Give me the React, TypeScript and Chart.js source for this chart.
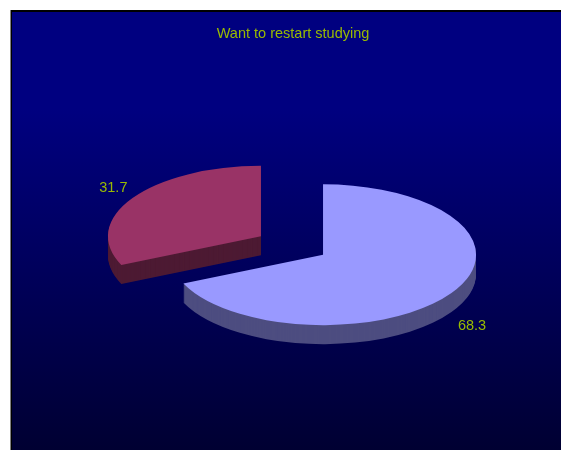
import React, { useEffect, useRef } from "react";
import { Chart, registerables } from "chart.js";

Chart.register(...registerables);

const title = "Want to restart studying";
const categories = ["Yes", "No"];
const values = [68.3, 31.7];
const topColors = ["#9999ff", "#993366"];
const sideColors = ["#4d4d80", "#4d1a33"];
const textColor = "#99bb00";
const fontFamily = "'Liberation Sans', Arial, sans-serif";

const DEPTH = 19;
const SQUASH = 0.46;
const EXPLODE = 37;
const CENTER_X = 292;
const CENTER_Y = 245.5;

function drawArc(ctx: any, arc: any, fill?: string) {
  const mid = (arc.startAngle + arc.endAngle) / 2;
  ctx.save();
  ctx.translate(Math.cos(mid) * EXPLODE, Math.sin(mid) * EXPLODE);
  if (fill) {
    const opts = Object.create(arc.options);
    Object.defineProperty(opts, "backgroundColor", { value: fill });
    const ghost = Object.create(arc);
    Object.defineProperty(ghost, "options", { value: opts });
    ghost.draw(ctx);
  } else {
    arc.draw(ctx);
  }
  ctx.restore();
}

const pie3d = {
  id: "pie3d",
  beforeDraw(chart: any) {
    const { ctx, width, height } = chart;
    const g = ctx.createLinearGradient(0, 12, 0, height);
    g.addColorStop(0, "#000080");
    g.addColorStop(0.22, "#000080");
    g.addColorStop(1, "#000032");
    ctx.save();
    ctx.fillStyle = "#808080";
    ctx.fillRect(10, 10, 1, height - 10);
    ctx.fillStyle = "#000000";
    ctx.fillRect(11, 10, width - 11, height - 10);
    ctx.fillStyle = g;
    ctx.fillRect(12, 12, width - 12, height - 12);
    ctx.restore();
  },
  beforeDatasetsDraw(chart: any) {
    const { ctx } = chart;
    const arcs = chart.getDatasetMeta(0).data;
    const cx = arcs[0].x;
    const cy = arcs[0].y;
    ctx.save();
    ctx.translate(CENTER_X, CENTER_Y);
    ctx.scale(1, SQUASH);
    ctx.translate(-cx, -cy);
    for (let d = DEPTH; d >= 1; d--) {
      ctx.save();
      ctx.translate(0, d / SQUASH);
      arcs.forEach((arc: any, i: number) => drawArc(ctx, arc, sideColors[i]));
      ctx.restore();
    }
    arcs.forEach((arc: any) => drawArc(ctx, arc));
    ctx.restore();

    ctx.save();
    ctx.fillStyle = textColor;
    ctx.font = `14.5px ${fontFamily}`;
    ctx.textAlign = "center";
    ctx.textBaseline = "middle";
    arcs.forEach((arc: any, i: number) => {
      const mid = (arc.startAngle + arc.endAngle) / 2;
      const r = arc.outerRadius * 1.155;
      const sin = Math.sin(mid);
      const x = CENTER_X + 0.7 + Math.cos(mid) * (EXPLODE + r);
      const y =
        CENTER_Y +
        1 +
        sin * EXPLODE * SQUASH +
        sin * r * 0.51 +
        (sin > 0 ? DEPTH + 2 : 0);
      ctx.fillText(values[i].toFixed(1), x, y);
    });
    ctx.restore();
    return false;
  },
};

export default function App() {
  const ref = useRef<HTMLCanvasElement>(null);

  useEffect(() => {
    document.body.style.margin = "0";
    document.body.style.background = "#ffffff";
    const chart = new Chart(ref.current!, {
      type: "pie",
      data: {
        labels: categories,
        datasets: [
          {
            data: values,
            backgroundColor: topColors,
            borderWidth: 0,
            radius: 153,
          },
        ],
      },
      options: {
        responsive: false,
        animation: false,
        devicePixelRatio: 1,
        layout: { padding: { left: 25, top: 25 } },
        events: [],
        plugins: {
          legend: { display: false },
          tooltip: { enabled: false },
          title: {
            display: true,
            text: title,
            color: textColor,
            font: { family: fontFamily, size: 14.5, weight: "normal" },
            padding: 0,
          },
        },
      },
      plugins: [pie3d],
    } as any);
    return () => chart.destroy();
  }, []);

  return (
    <canvas
      ref={ref}
      width={561}
      height={450}
      style={{ display: "block", width: 561, height: 450 }}
    />
  );
}
